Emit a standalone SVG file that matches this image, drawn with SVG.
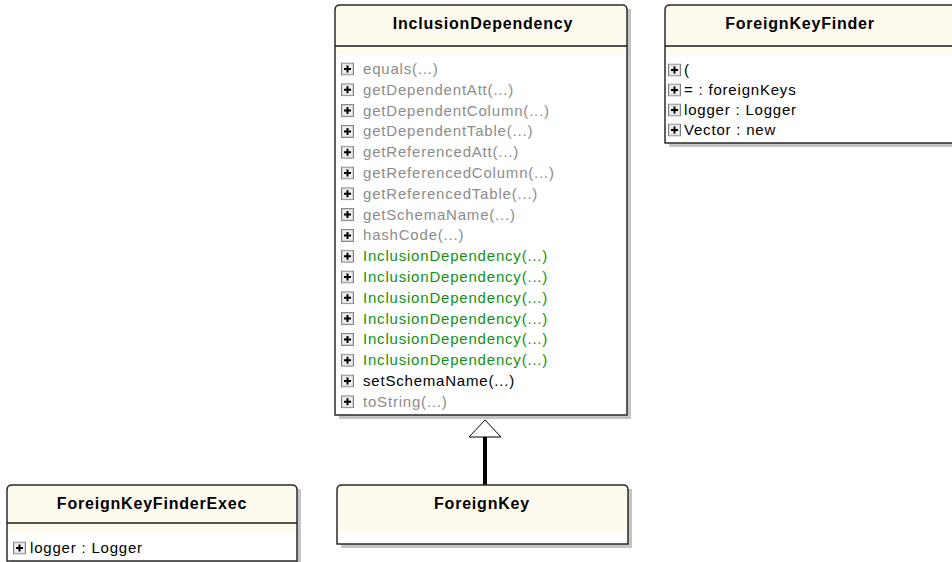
<svg xmlns="http://www.w3.org/2000/svg" width="952" height="562" viewBox="0 0 952 562">
<style>
.shadow{fill:#c4c4c4}
.box{fill:#ffffff;stroke:#2b2b2b;stroke-width:1.5}
.hdr{fill:#fffaee}
.sep{stroke:#1a1a1a;stroke-width:1.5}
.title{font-family:"Liberation Sans",Arial,sans-serif;font-weight:bold;font-size:16px;fill:#000;text-anchor:middle;letter-spacing:0.8px}
.it{font-family:"Liberation Sans",Arial,sans-serif;font-size:15px;letter-spacing:0.8px}
.g{fill:#8c8c8c}
.gr{fill:#139113}
.k{fill:#000}
</style>
<defs>
<symbol id="plus" viewBox="0 0 13 13" width="13" height="13">
<rect x="0.5" y="0.5" width="12" height="12" fill="#d8d8d8" stroke="#808080"/>
<rect x="2" y="2" width="9" height="9" fill="#eeeeee"/>
<path d="M6.5 3V10M3 6.5H10" stroke="#000" stroke-width="2"/>
</symbol>
</defs>

<g id="connectors">
<line x1="485" y1="485" x2="485" y2="437" stroke="#000" stroke-width="4"/>
<path d="M485 420 L469 437 L501 437 Z" fill="#fff" stroke="#000" stroke-width="1"/>
</g>

<g id="InclusionDependency">
<rect class="shadow" x="339" y="9" width="292" height="410"/>
<path class="box" d="M335 415V10Q335 5 340 5H622Q627 5 627 10V415Z"/>
<rect class="hdr" x="336" y="6" width="290" height="49" rx="4"/>
<line class="sep" x1="335" y1="46" x2="627" y2="46"/>
<text class="title" x="483" y="29">InclusionDependency</text>
<use href="#plus" x="341" y="62.5"/><text class="it g" x="363" y="74">equals(...)</text>
<use href="#plus" x="341" y="83.3"/><text class="it g" x="363" y="94.8">getDependentAtt(...)</text>
<use href="#plus" x="341" y="104.1"/><text class="it g" x="363" y="115.6">getDependentColumn(...)</text>
<use href="#plus" x="341" y="124.9"/><text class="it g" x="363" y="136.4">getDependentTable(...)</text>
<use href="#plus" x="341" y="145.7"/><text class="it g" x="363" y="157.2">getReferencedAtt(...)</text>
<use href="#plus" x="341" y="166.5"/><text class="it g" x="363" y="178">getReferencedColumn(...)</text>
<use href="#plus" x="341" y="187.3"/><text class="it g" x="363" y="198.8">getReferencedTable(...)</text>
<use href="#plus" x="341" y="208.1"/><text class="it g" x="363" y="219.6">getSchemaName(...)</text>
<use href="#plus" x="341" y="228.9"/><text class="it g" x="363" y="240.4">hashCode(...)</text>
<use href="#plus" x="341" y="249.7"/><text class="it gr" x="363" y="261.2">InclusionDependency(...)</text>
<use href="#plus" x="341" y="270.5"/><text class="it gr" x="363" y="282">InclusionDependency(...)</text>
<use href="#plus" x="341" y="291.3"/><text class="it gr" x="363" y="302.8">InclusionDependency(...)</text>
<use href="#plus" x="341" y="312.1"/><text class="it gr" x="363" y="323.6">InclusionDependency(...)</text>
<use href="#plus" x="341" y="332.9"/><text class="it gr" x="363" y="344.4">InclusionDependency(...)</text>
<use href="#plus" x="341" y="353.7"/><text class="it gr" x="363" y="365.2">InclusionDependency(...)</text>
<use href="#plus" x="341" y="374.5"/><text class="it k" x="363" y="386">setSchemaName(...)</text>
<use href="#plus" x="341" y="395.3"/><text class="it g" x="363" y="406.8">toString(...)</text>
</g>

<g id="ForeignKeyFinder">
<rect class="shadow" x="669" y="9" width="300" height="138"/>
<path class="box" d="M665 143V10Q665 5 670 5H960V143Z"/>
<rect class="hdr" x="666" y="6" width="294" height="49" rx="4"/>
<line class="sep" x1="665" y1="46" x2="960" y2="46"/>
<text class="title" x="800" y="29">ForeignKeyFinder</text>
<use href="#plus" x="668" y="63.5"/><text class="it k" x="684" y="75">(</text>
<use href="#plus" x="668" y="83.5"/><text class="it k" x="684" y="95">= : foreignKeys</text>
<use href="#plus" x="668" y="103.5"/><text class="it k" x="684" y="115">logger : Logger</text>
<use href="#plus" x="668" y="123.5"/><text class="it k" x="684" y="135">Vector : new</text>
</g>

<g id="ForeignKeyFinderExec">
<rect class="shadow" x="11" y="489" width="290" height="76"/>
<path class="box" d="M7 561V490Q7 485 12 485H292Q297 485 297 490V561Z"/>
<rect class="hdr" x="8" y="486" width="288" height="47" rx="4"/>
<line class="sep" x1="7" y1="523" x2="297" y2="523"/>
<text class="title" x="152" y="509">ForeignKeyFinderExec</text>
<use href="#plus" x="13" y="541.5"/><text class="it k" x="30" y="553">logger : Logger</text>
</g>

<g id="ForeignKey">
<rect class="shadow" x="341" y="489" width="291" height="59"/>
<path class="box" d="M337 544V490Q337 485 342 485H623Q628 485 628 490V544Z"/>
<rect class="hdr" x="338" y="486" width="289" height="47" rx="4"/>
<text class="title" x="482" y="509">ForeignKey</text>
</g>
</svg>
